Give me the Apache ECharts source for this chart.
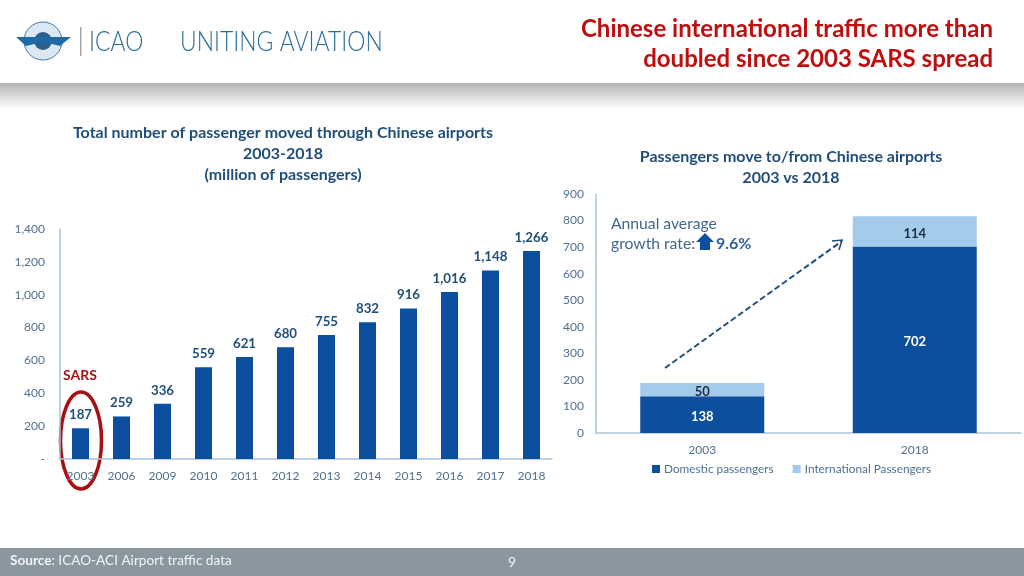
<!DOCTYPE html>
<html>
<head>
<meta charset="utf-8">
<script src="https://cdn.jsdelivr.net/npm/echarts@6/dist/echarts.min.js"></script>
<style>html,body{margin:0;padding:0;background:#fff}#main{width:1024px;height:576px}</style>
</head>
<body>
<div id="main"></div>
<script>
var years = ['2003', '2006', '2009', '2010', '2011', '2012', '2013', '2014', '2015', '2016', '2017', '2018'];
var totalPassengers = [187, 259, 336, 559, 621, 680, 755, 832, 916, 1016, 1148, 1266];
var compareYears = ['2003', '2018'];
var domestic = [138, 702];
var international = [50, 114];

var FONT = 'Lato';
var BLUE = '#0b4f9e';
var LIGHT = '#a3cbec';
var TITLE = '#1f4e79';
var TICK = '#50708f';
var AXIS = '#a9c3dc';
var RED = '#a80f14';

function comma(v) {
    return String(v).replace(/\B(?=(\d{3})+$)/g, ',');
}

var myChart = echarts.init(document.getElementById('main'));
myChart.setOption({
    animation: false,
    textStyle: {fontFamily: FONT},
    title: [
        {
            text: 'Total number of passenger moved through Chinese airports\n2003-2018\n(million of passengers)',
            left: 278, top: 117, textAlign: 'center',
            textStyle: {fontFamily: FONT, fontSize: 16, fontWeight: 'bold', color: TITLE, lineHeight: 21}
        },
        {
            text: 'Passengers move to/from Chinese airports\n2003 vs 2018',
            left: 786, top: 141, textAlign: 'center',
            textStyle: {fontFamily: FONT, fontSize: 16, fontWeight: 'bold', color: TITLE, lineHeight: 21}
        }
    ],
    legend: {
        data: ['Domestic passengers', 'International Passengers'],
        left: 647, top: 458, itemWidth: 8, itemHeight: 8, itemGap: 19,
        icon: 'rect',
        textStyle: {fontFamily: FONT, fontSize: 11.8, color: TICK, padding: [0, 0, 0, -1]}
    },
    grid: [
        {left: 60, right: 472, top: 229, height: 230},
        {left: 596, right: 3, top: 194, height: 239}
    ],
    xAxis: [
        {
            type: 'category', gridIndex: 0, data: years,
            axisLine: {lineStyle: {color: AXIS, width: 1.5}},
            axisTick: {show: false},
            axisLabel: {color: TICK, fontSize: 12, margin: 11}
        },
        {
            type: 'category', gridIndex: 1, data: compareYears,
            axisLine: {lineStyle: {color: AXIS, width: 1.5}},
            axisTick: {show: false},
            axisLabel: {color: TICK, fontSize: 12, margin: 11}
        }
    ],
    yAxis: [
        {
            type: 'value', gridIndex: 0, min: 0, max: 1400, interval: 200,
            axisLine: {show: true, lineStyle: {color: AXIS, width: 1.5}},
            axisTick: {show: false},
            splitLine: {show: false},
            axisLabel: {
                color: TICK, fontSize: 12, margin: 15,
                formatter: function (v) { return v === 0 ? '-' : comma(v); }
            }
        },
        {
            type: 'value', gridIndex: 1, min: 0, max: 900, interval: 100,
            axisLine: {show: true, lineStyle: {color: AXIS, width: 1.5}},
            axisTick: {show: false},
            splitLine: {show: false},
            axisLabel: {color: TICK, fontSize: 12, margin: 12}
        }
    ],
    series: [
        {
            name: 'Total passengers', type: 'bar', xAxisIndex: 0, yAxisIndex: 0,
            data: totalPassengers, barWidth: 17,
            itemStyle: {color: BLUE},
            label: {
                show: true, position: 'top', distance: 7,
                fontFamily: FONT, fontSize: 13.3, fontWeight: 'bold', color: TITLE,
                formatter: function (p) { return comma(p.value); }
            }
        },
        {
            name: 'Domestic passengers', type: 'bar', stack: 'pax', xAxisIndex: 1, yAxisIndex: 1,
            data: domestic, barWidth: 124,
            itemStyle: {color: BLUE},
            label: {show: true, position: 'inside', offset: [0, 2], fontFamily: FONT, fontSize: 13, fontWeight: 'bold', color: '#fff'}
        },
        {
            name: 'International Passengers', type: 'bar', stack: 'pax', xAxisIndex: 1, yAxisIndex: 1,
            data: international, barWidth: 124,
            itemStyle: {color: LIGHT},
            label: {show: true, position: 'inside', offset: [0, 2], fontFamily: FONT, fontSize: 13, fontWeight: 'bold', color: '#1d2d3d'}
        }
    ],
    graphic: [
        // header shadow band
        {
            type: 'rect', shape: {x: 0, y: 83, width: 1024, height: 26}, silent: true,
            style: {
                fill: new echarts.graphic.LinearGradient(0, 0, 0, 1, [
                    {offset: 0, color: '#b4b4b4'},
                    {offset: 1, color: '#ffffff'}
                ])
            }
        },
        // logo emblem
        {type: 'circle', shape: {cx: 43, cy: 41, r: 19}, style: {fill: '#dbe8f2', stroke: '#3f78a8', lineWidth: 1}},
        {type: 'circle', shape: {cx: 43, cy: 41, r: 9}, style: {fill: '#2d5f8c'}},
        {type: 'polygon', shape: {points: [[16, 37], [71, 37], [60, 46], [48, 43], [38, 43], [26, 46]]}, style: {fill: '#1f6aa5'}},
        {type: 'rect', shape: {x: 80, y: 27, width: 1.5, height: 29}, style: {fill: '#a8a8a8'}},
        {type: 'text', x: 89, y: 29, scaleX: 0.85, style: {text: 'ICAO', font: '300 27px ' + FONT, fill: '#2a6c9e'}},
        {type: 'text', x: 180, y: 29, scaleX: 0.85, style: {text: 'UNITING AVIATION', font: '300 27px ' + FONT, fill: '#2a6c9e'}},
        // slide heading
        {
            type: 'text', x: 993, y: 14,
            style: {
                text: 'Chinese international traffic more than\ndoubled since 2003 SARS spread',
                font: 'bold 24px ' + FONT, fill: '#c00d0d', align: 'right', lineHeight: 30
            }
        },
        // SARS annotation
        {type: 'text', x: 63, y: 368, style: {text: 'SARS', font: 'bold 14px ' + FONT, fill: RED}},
        {type: 'ellipse', shape: {cx: 81, cy: 440.5, rx: 20.5, ry: 48.5}, style: {fill: 'none', stroke: RED, lineWidth: 3.5}},
        // growth annotation
        {
            type: 'text', x: 611, y: 214,
            style: {text: 'Annual average\ngrowth rate:', font: '15.7px ' + FONT, fill: '#3f6590', lineHeight: 20}
        },
        {type: 'polygon', shape: {points: [[705, 233], [714, 242], [710, 242], [710, 250], [700, 250], [700, 242], [696, 242]]}, style: {fill: BLUE}},
        {type: 'text', x: 716, y: 236, style: {text: '9.6%', font: 'bold 16px ' + FONT, fill: '#2f5f94'}},
        {type: 'line', shape: {x1: 665, y1: 368, x2: 842, y2: 241}, style: {stroke: '#1f4e79', lineWidth: 2, lineDash: [6, 3]}},
        {type: 'polyline', shape: {points: [[832, 241], [842, 240], [839, 250]]}, style: {fill: 'none', stroke: '#1f4e79', lineWidth: 1.5}},
        // footer
        {type: 'rect', shape: {x: 0, y: 548, width: 1024, height: 28}, style: {fill: '#8a979e'}},
        {
            type: 'text', x: 10, y: 554,
            style: {
                text: '{b|Source}: ICAO-ACI Airport traffic data',
                font: '13.6px ' + FONT, fill: '#f2f4f5',
                rich: {b: {fontFamily: FONT, fontSize: 13.6, fontWeight: 'bold', fill: '#f2f4f5'}}
            }
        },
        {type: 'text', x: 508, y: 555, style: {text: '9', font: '14px ' + FONT, fill: '#f2f4f5'}}
    ]
});
</script>
</body>
</html>
